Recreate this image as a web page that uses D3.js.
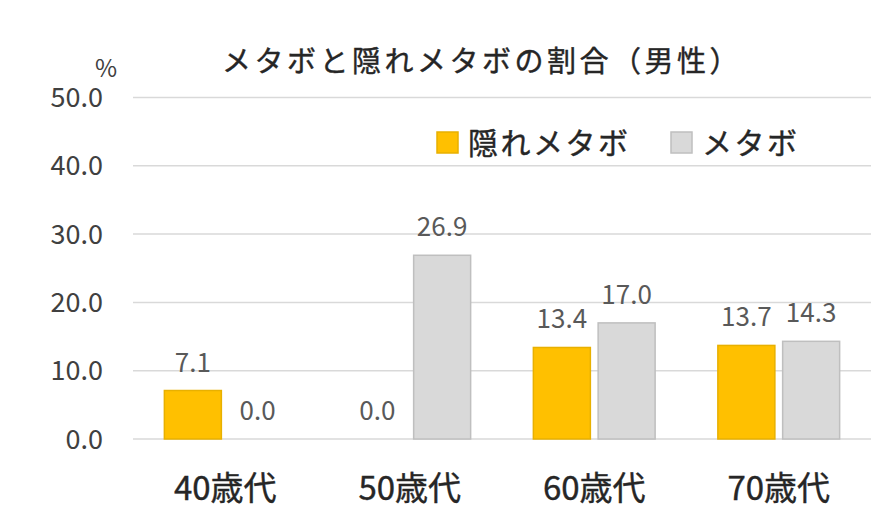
<!DOCTYPE html>
<html>
<head>
<meta charset="utf-8">
<script src="https://cdn.jsdelivr.net/npm/d3@7"></script>
<style>
body { margin: 0; background: #fff; }
text { font-family: "Noto Sans CJK JP", "Noto Sans", sans-serif; }
.dark { stroke: #262626; stroke-width: 0.4; }
</style>
</head>
<body>
<script>
var width = 893;
var height = 527;

var categories = ["40歳代", "50歳代", "60歳代", "70歳代"];
var seriesNames = ["隠れメタボ", "メタボ"];
var hidden = [7.1, 0.0, 13.4, 13.7];   // 隠れメタボ
var metabo = [0.0, 26.9, 17.0, 14.3];  // メタボ
var yTicks = [0, 10, 20, 30, 40, 50];
var colors = ["#FFC000", "#D9D9D9"];
var strokes = ["#E8B000", "#BFBFBF"];

var svg = d3.select("body").append("svg")
    .attr("width", width)
    .attr("height", height);

var x = d3.scaleBand()
    .domain(categories)
    .range([133, 871])
    .paddingInner(0.34)
    .paddingOuter(0.17);

var x1 = d3.scaleBand()
    .domain(seriesNames)
    .range([0, x.bandwidth()])
    .paddingInner(0.12);

var y = d3.scaleLinear()
    .domain([0, 50])
    .range([439, 97.5]);

// gridlines
svg.append("g").selectAll("line")
    .data(yTicks)
    .enter().append("line")
    .attr("x1", 133)
    .attr("x2", 871)
    .attr("y1", function(d) { return y(d); })
    .attr("y2", function(d) { return y(d); })
    .attr("stroke", "#D9D9D9")
    .attr("stroke-width", 1.5);

// y labels
svg.append("g").selectAll("text")
    .data(yTicks)
    .enter().append("text")
    .attr("x", 103)
    .attr("y", function(d) { return y(d) + 9.5; })
    .attr("text-anchor", "end")
    .attr("font-size", 27)
    .attr("fill", "#404040")
    .text(function(d) { return d.toFixed(1); });

svg.append("text") // unit
    .attr("x", 106)
    .attr("y", 77)
    .attr("text-anchor", "middle")
    .attr("font-size", 24)
    .attr("fill", "#404040")
    .text("%");

// title
svg.append("text")
    .attr("class", "dark")
    .attr("x", 482)
    .attr("y", 72)
    .attr("text-anchor", "middle")
    .attr("font-size", 29)
    .attr("letter-spacing", 3.5)
    .attr("fill", "#262626")
    .text("メタボと隠れメタボの割合（男性）");

// bars
var rows = categories.map(function(c, i) {
    return { cat: c, vals: [hidden[i], metabo[i]] };
});

var groups = svg.append("g").selectAll("g")
    .data(rows)
    .enter().append("g")
    .attr("transform", function(d) { return "translate(" + x(d.cat) + ",0)"; });

groups.selectAll("rect")
    .data(function(d) { return d.vals; })
    .enter().append("rect")
    .attr("x", function(d, i) { return x1(seriesNames[i]); })
    .attr("y", function(d) { return y(d); })
    .attr("width", x1.bandwidth())
    .attr("height", function(d) { return y(0) - y(d); })
    .attr("fill", function(d, i) { return colors[i]; })
    .attr("stroke", function(d, i) { return d > 0 ? strokes[i] : "none"; })
    .attr("stroke-width", 1.5);

groups.selectAll("text")
    .data(function(d) { return d.vals; })
    .enter().append("text")
    .attr("x", function(d, i) { return x1(seriesNames[i]) + x1.bandwidth() / 2; })
    .attr("y", function(d) { return y(d) - 19; })
    .attr("text-anchor", "middle")
    .attr("font-size", 26)
    .attr("fill", "#595959")
    .text(function(d) { return d.toFixed(1); });

// x labels
svg.append("g").selectAll("text")
    .data(categories)
    .enter().append("text")
    .attr("class", "dark")
    .attr("x", function(d) { return x(d) + x.bandwidth() / 2; })
    .attr("y", 500)
    .attr("text-anchor", "middle")
    .attr("font-size", 33)
    .attr("fill", "#262626")
    .text(function(d) { return d; });

// legend
var legendX = [437, 671];
var legend = svg.append("g").selectAll("g")
    .data(seriesNames)
    .enter().append("g")
    .attr("transform", function(d, i) { return "translate(" + legendX[i] + ",132)"; });

legend.append("rect")
    .attr("width", 21)
    .attr("height", 21)
    .attr("fill", function(d, i) { return colors[i]; })
    .attr("stroke", function(d, i) { return strokes[i]; })
    .attr("stroke-width", 1.5);

legend.append("text")
    .attr("class", "dark")
    .attr("x", 31)
    .attr("y", 22)
    .attr("font-size", 30)
    .attr("letter-spacing", 2.5)
    .attr("fill", "#262626")
    .text(function(d) { return d; });
</script>
</body>
</html>
